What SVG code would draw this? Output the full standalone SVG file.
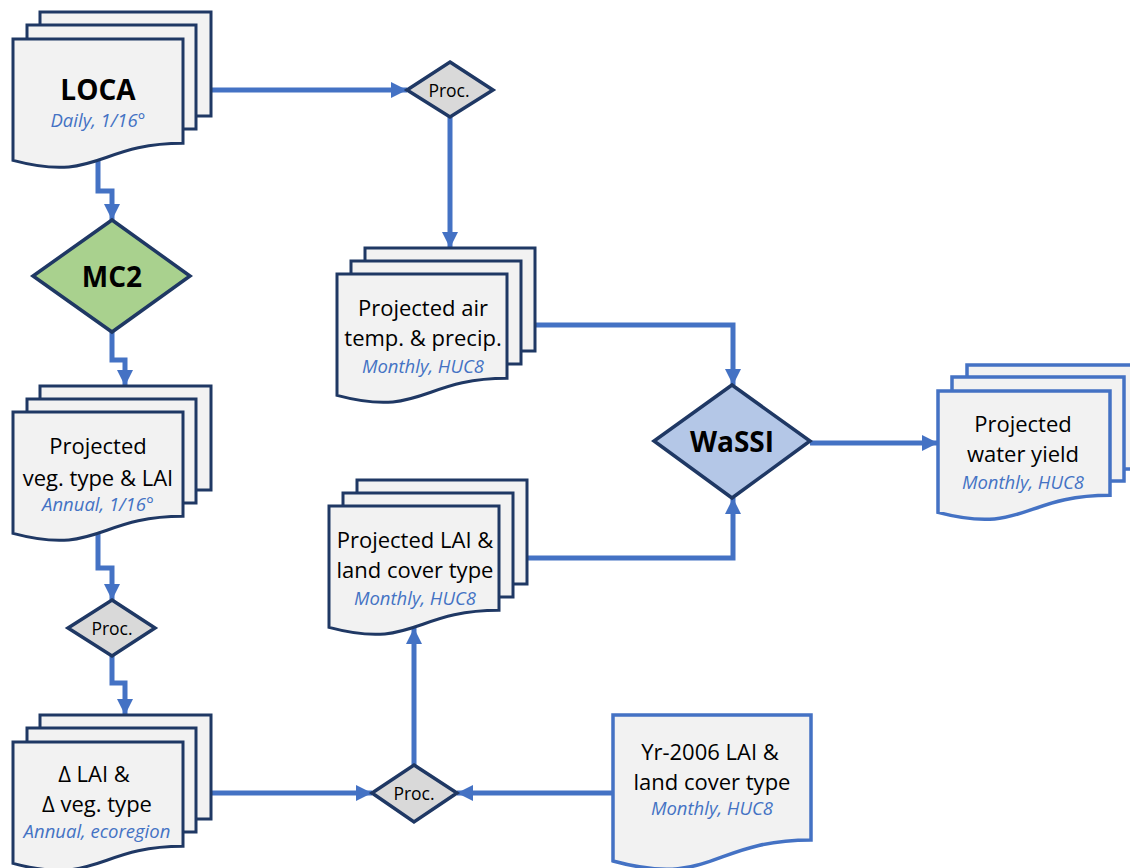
<svg xmlns="http://www.w3.org/2000/svg" width="1130" height="868" viewBox="0 0 1130 868">
<style>
.sheet{fill:#F2F2F2;stroke:#1F3864;stroke-width:3;stroke-linejoin:miter}
.bsheet{fill:#F2F2F2;stroke:#4472C4;stroke-width:3.5;stroke-linejoin:miter}
.dia{stroke:#1F3864;stroke-width:3.5;stroke-linejoin:miter}
.t{font-family:"Open Sans","Noto Sans",sans-serif;font-size:22px;fill:#000;text-anchor:middle}
.s{font-family:"Open Sans","Noto Sans",sans-serif;font-size:18.5px;font-style:italic;fill:#4472C4;text-anchor:middle}
.b{font-family:"Open Sans","Noto Sans",sans-serif;font-size:28px;font-weight:bold;fill:#000;text-anchor:middle}
.p{font-family:"Open Sans","Noto Sans",sans-serif;font-size:17.5px;fill:#000;text-anchor:middle}
.c{fill:none;stroke:#4472C4;stroke-width:5;marker-end:url(#ah)}
</style>
<defs>
<marker id="ah" markerUnits="userSpaceOnUse" markerWidth="18" markerHeight="17" refX="16" refY="8" orient="auto">
<path d="M0,0 L16,8 L0,16 Z" fill="#4472C4"/>
</marker>
</defs>
<rect width="1130" height="868" fill="#fff"/>

<g id="connectors">
<path class="c" d="M98,160 V191 H112 V220"/>
<path class="c" d="M112,332 V360 H125 V386"/>
<path class="c" d="M98,533 V568 H112 V600"/>
<path class="c" d="M112,656 V683 H125 V715"/>
<path class="c" d="M211,793 H372"/>
<path class="c" d="M613,793 H457"/>
<path class="c" d="M414,765 V628"/>
<path class="c" d="M527,558 H733 V498"/>
<path class="c" d="M211,90 H407"/>
<path class="c" d="M450,117 V248"/>
<path class="c" d="M535,325 H733 V385"/>
<path class="c" d="M810,443 H938"/>
</g>

<g id="loca">
<rect class="sheet" x="40" y="12" width="171" height="104"/>
<rect class="sheet" x="27" y="25" width="169" height="104"/>
<path class="sheet" d="M13,39 H183 V143.3 C98,143.3 98,183 13,160.4 Z"/>
<text class="b" x="98" y="100">LOCA</text>
<text class="s" x="98" y="127">Daily, 1/16°</text>
</g>

<g id="mc2">
<polygon class="dia" fill="#A9D18E" points="112,220 190,276 112,332 33,276"/>
<text class="b" x="112" y="287">MC2</text>
</g>

<g id="veg">
<rect class="sheet" x="40" y="386" width="171" height="104"/>
<rect class="sheet" x="27" y="399" width="169" height="104"/>
<path class="sheet" d="M13,412 H183 V516.3 C98,516.3 98,556 13,533.4 Z"/>
<text class="t" x="98" y="454">Projected</text>
<text class="t" x="98" y="486">veg. type &amp; LAI</text>
<text class="s" x="98" y="511">Annual, 1/16°</text>
</g>

<g id="proc2">
<polygon class="dia" fill="#D9D9D9" points="112,600 155,628 112,656 68,628"/>
<text class="p" x="112" y="635">Proc.</text>
</g>

<g id="dlai">
<rect class="sheet" x="40" y="715" width="171" height="104"/>
<rect class="sheet" x="27" y="728" width="169" height="104"/>
<path class="sheet" d="M13,742 H183 V846.3 C98,846.3 98,886 13,863.4 Z"/>
<text class="t" x="94" y="782">Δ LAI &amp;</text>
<text class="t" x="97" y="812">Δ veg. type</text>
<text class="s" x="97" y="838">Annual, ecoregion</text>
</g>

<g id="proc3">
<polygon class="dia" fill="#D9D9D9" points="414,765 457,793 414,822 372,793"/>
<text class="p" x="414" y="800">Proc.</text>
</g>

<g id="yr2006">
<path class="bsheet" d="M613,715 H811 V840 C712,840 712,888 613,861 Z"/>
<text class="t" x="710" y="760">Yr-2006 LAI &amp;</text>
<text class="t" x="712" y="790">land cover type</text>
<text class="s" x="712" y="815">Monthly, HUC8</text>
</g>

<g id="projlai">
<rect class="sheet" x="357" y="480" width="170" height="104"/>
<rect class="sheet" x="343" y="493" width="170" height="104"/>
<path class="sheet" d="M329,506 H499 V610.3 C414,610.3 414,650 329,627.4 Z"/>
<text class="t" x="415" y="548">Projected LAI &amp;</text>
<text class="t" x="415" y="578">land cover type</text>
<text class="s" x="415" y="605">Monthly, HUC8</text>
</g>

<g id="proc1">
<polygon class="dia" fill="#D9D9D9" points="450,62 493,90 450,117 407,90"/>
<text class="p" x="449" y="97">Proc.</text>
</g>

<g id="airtemp">
<rect class="sheet" x="365" y="248" width="170" height="103"/>
<rect class="sheet" x="351" y="261" width="170" height="103"/>
<path class="sheet" d="M337,274 H507 V378.3 C422,378.3 422,418 337,395.4 Z"/>
<text class="t" x="423" y="316">Projected air</text>
<text class="t" x="423" y="346">temp. &amp; precip.</text>
<text class="s" x="423" y="373">Monthly, HUC8</text>
</g>

<g id="wassi">
<polygon class="dia" fill="#B4C7E7" points="732,385 810,441 732,498 654,441"/>
<text class="b" x="732" y="452">WaSSI</text>
</g>

<g id="yield">
<rect class="bsheet" x="967" y="365" width="172" height="104"/>
<rect class="bsheet" x="952" y="377" width="172" height="104"/>
<path class="bsheet" d="M938,391 H1110 V495.3 C1024,495.3 1024,535 938,512.4 Z"/>
<text class="t" x="1023" y="432">Projected</text>
<text class="t" x="1023" y="462">water yield</text>
<text class="s" x="1023" y="489">Monthly, HUC8</text>
</g>
</svg>
